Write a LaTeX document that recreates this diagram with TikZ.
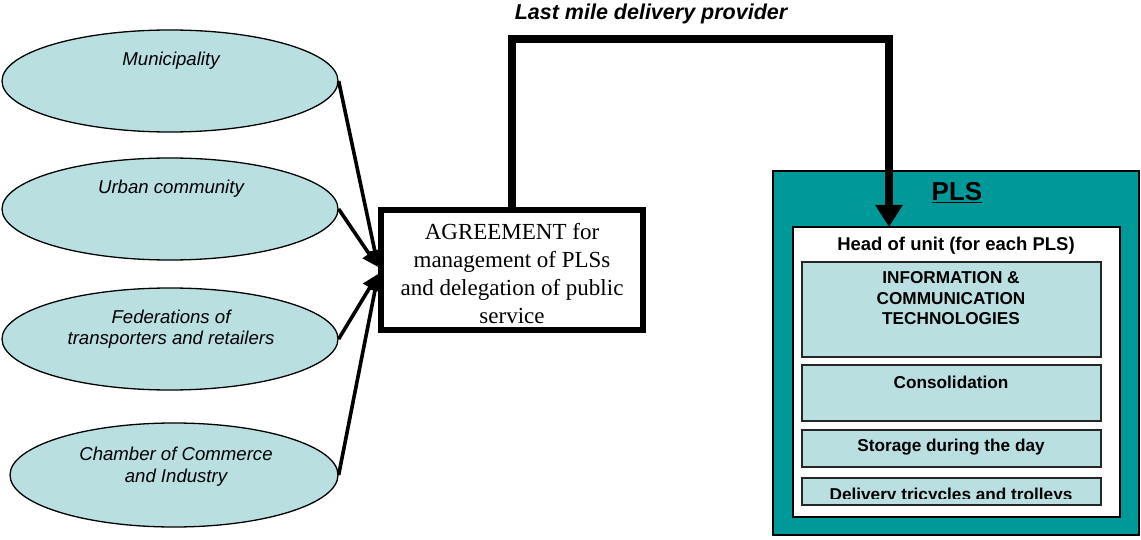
\documentclass[tikz,border=0pt]{standalone}
\usepackage{fontspec}
\setmainfont{Liberation Sans}
\newfontfamily\timesf{Liberation Serif}
\usetikzlibrary{shapes.geometric,arrows.meta}
\definecolor{lightblue}{HTML}{B9DFE1}
\definecolor{tealc}{HTML}{009999}
\tikzset{
  ell/.style={ellipse, draw=black, line width=1.3pt, fill=lightblue, minimum width=336pt, minimum height=102pt, inner sep=0pt},
  elltext/.style={font=\fontsize{18.6}{21.5}\selectfont\itshape, align=center, inner sep=0pt},
  feed/.style={line width=3.6pt, -{Triangle[length=16pt,width=15pt]}},
  agreebox/.style={rectangle, draw=black, line width=6pt, fill=white, minimum width=262pt, minimum height=120pt, inner sep=0pt},
  agreetext/.style={font=\timesf\fontsize{23}{27.7}\selectfont, align=center, inner sep=0pt},
  provider/.style={line width=8pt, -{Triangle[length=22pt,width=26pt]}},
  plsbox/.style={rectangle, draw=black, line width=1.5pt, fill=tealc, minimum width=366pt, minimum height=364pt, inner sep=0pt},
  unitbox/.style={rectangle, draw=black, line width=1.5pt, fill=white, minimum width=327pt, minimum height=290pt, inner sep=0pt},
  task/.style={rectangle, draw=black!85, line width=1.5pt, fill=lightblue, minimum width=299pt, inner sep=0pt},
  tasktext/.style={font=\fontsize{17.2}{20.5}\selectfont\bfseries, align=center, inner sep=0pt},
}
\begin{document}
\begin{tikzpicture}[x=1pt,y=-1pt]
\useasboundingbox (0,0) rectangle (1141,540);
\fill[white] (0,0) rectangle (1141,540);

% ellipses
\node[ell] (mun) at (170,81) {};
\node[elltext] (munt) at (171,61) {Municipality};
\node[ell] (urb) at (170,209) {};
\node[elltext] (urbt) at (171,189) {Urban community};
\node[ell] (fed) at (170,339) {};
\node[elltext] (fedt) at (171,329) {Federations of\\transporters and retailers};
\node[ell, minimum width=328pt, minimum height=104pt] (cci) at (174,475) {};
\node[elltext] (ccit) at (176,466.5) {Chamber of Commerce\\and Industry};

% agreement
\node[agreebox] (ag) at (512,270) {};
\node[agreetext] (agt) at (512,273.5) {AGREEMENT for\\management of PLSs\\and delegation of public\\service};

\draw[feed] (mun.east) -- ([yshift=4pt]ag.west);
\draw[feed] (urb.east) -- ([yshift=3pt]ag.west);
\draw[feed] (fed.east) -- ([yshift=-4pt]ag.west);
\draw[feed] (cci.east) -- ([yshift=-5pt]ag.west);

% PLS
\node[plsbox] (pls) at (956,353) {};
\node[font=\fontsize{26}{30}\selectfont\bfseries, inner sep=0pt] (plst) at (957,193) {\underline{PLS}};
\node[unitbox] (unit) at (956.5,372) {};
\node[font=\fontsize{18.5}{21}\selectfont\bfseries, inner sep=0pt] (hou) at (956,246) {Head of unit (for each PLS)};

\node[task, minimum height=95pt] (ict) at (951.5,309.5) {};
\node[tasktext] (ictt) at (951,298.5) {INFORMATION \&\\COMMUNICATION\\TECHNOLOGIES};
\node[task, minimum height=56pt] (cons) at (951.5,393) {};
\node[tasktext] (const) at (951,382) {Consolidation};
\node[task, minimum height=37pt] (stor) at (951.5,448.5) {};
\node[tasktext] (stort) at (951,447.5) {Storage during the day};
\node[task, minimum height=27pt] (deliv) at (951.5,491.5) {};
\begin{scope}
\clip (803,479) rectangle (1100,498);
\node[tasktext, anchor=base] (delivt) at (951,500) {Delivery tricycles and trolleys};
\end{scope}

% provider connector
\node[font=\fontsize{21.5}{24}\selectfont\bfseries\itshape, inner sep=0pt] (lmd) at (651,14) {Last mile delivery provider};
\coordinate (bend) at (512,39);
\coordinate (tip) at (889,227);
\draw[provider] (ag.north) -- (bend) -| (tip);
\end{tikzpicture}
\end{document}
